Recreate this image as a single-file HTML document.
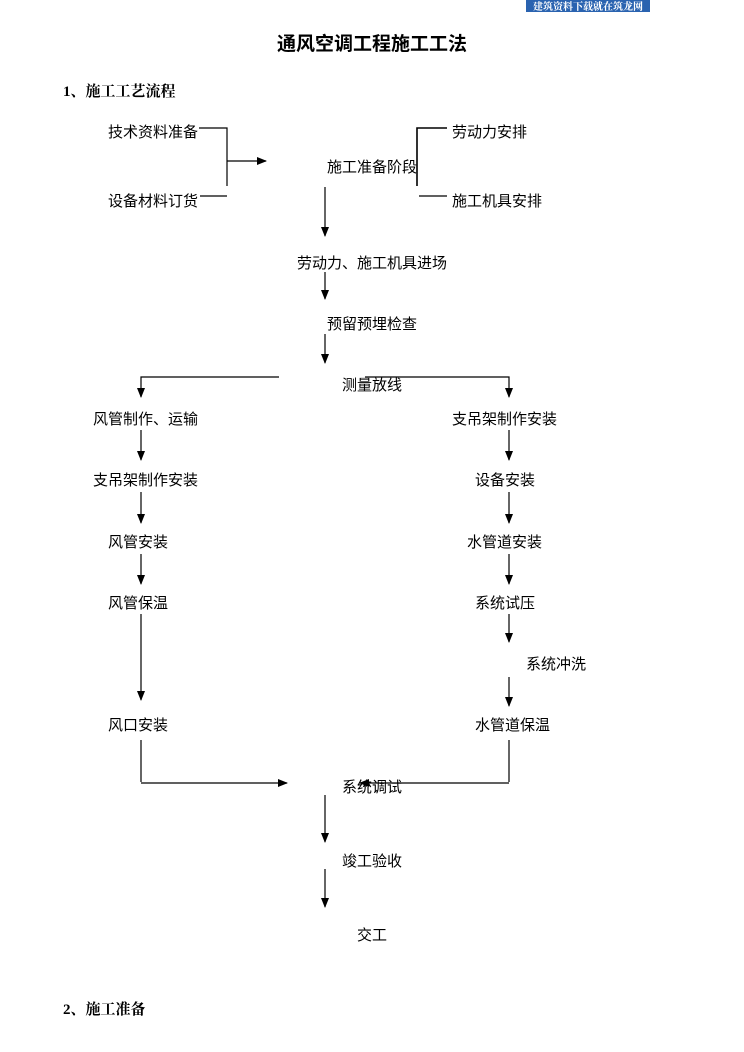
<!DOCTYPE html>
<html><head><meta charset="utf-8"><style>
html,body{margin:0;padding:0;background:#fff;}
svg{display:block;}
text{font-family:"Liberation Serif","Noto Serif CJK SC","Noto Sans CJK SC",serif;fill:#000;}
.l{font-size:15px;font-family:"Liberation Sans","Noto Sans CJK SC",sans-serif;}
.t{font-family:"Liberation Sans","Noto Sans CJK SC",sans-serif;}
</style></head><body>
<svg width="744" height="1052" viewBox="0 0 744 1052" xmlns="http://www.w3.org/2000/svg">
<defs><marker id="a" markerWidth="10" markerHeight="8" refX="9" refY="4" orient="auto" markerUnits="userSpaceOnUse"><path d="M0,0 L10,4 L0,8 z" fill="#000"/></marker></defs>
<rect x="526" y="0" width="124" height="12" fill="#2a63b0"/>
<text x="588" y="10" font-size="10" text-anchor="middle" style="fill:#fff" font-weight="bold">建筑资料下载就在筑龙网</text>
<text class="t" x="372" y="50" font-size="19" font-weight="bold" text-anchor="middle">通风空调工程施工工法</text>
<text x="63" y="96" font-size="15" font-weight="bold">1、施工工艺流程</text>
<text x="63" y="1014" font-size="15" font-weight="bold">2、施工准备</text>
<g stroke="#000" stroke-width="1.2" fill="none">
<path d="M199 128H227V186M200 196H227"/>
<path d="M227 161H266" marker-end="url(#a)"/>
<path d="M447 128H417V186" stroke-width="1.6"/>
<path d="M419 196H447"/>
<path d="M325 187V236" marker-end="url(#a)"/>
<path d="M325 272V299" marker-end="url(#a)"/>
<path d="M325 334V363" marker-end="url(#a)"/>
<path d="M279 377H141V397" marker-end="url(#a)"/>
<path d="M365 377H509V397" marker-end="url(#a)"/>
<path d="M141 430V460" marker-end="url(#a)"/>
<path d="M141 492V523" marker-end="url(#a)"/>
<path d="M141 554V584" marker-end="url(#a)"/>
<path d="M141 614V700" marker-end="url(#a)"/>
<path d="M509 430V460" marker-end="url(#a)"/>
<path d="M509 492V523" marker-end="url(#a)"/>
<path d="M509 554V584" marker-end="url(#a)"/>
<path d="M509 614V642" marker-end="url(#a)"/>
<path d="M509 677V706" marker-end="url(#a)"/>
<path d="M141 740V782"/>
<path d="M141 783H287" marker-end="url(#a)"/>
<path d="M509 740V782"/>
<path d="M509 783H360" marker-end="url(#a)"/>
<path d="M325 795V842" marker-end="url(#a)"/>
<path d="M325 869V907" marker-end="url(#a)"/>
</g>
<g class="l">
<text class="l" x="108" y="137">技术资料准备</text>
<text class="l" x="108" y="206">设备材料订货</text>
<text class="l" x="327" y="172">施工准备阶段</text>
<text class="l" x="452" y="137">劳动力安排</text>
<text class="l" x="452" y="206">施工机具安排</text>
<text class="l" x="297" y="268">劳动力、施工机具进场</text>
<text class="l" x="327" y="329">预留预埋检查</text>
<text class="l" x="342" y="390">测量放线</text>
<text class="l" x="93" y="424">风管制作、运输</text>
<text class="l" x="452" y="424">支吊架制作安装</text>
<text class="l" x="93" y="485">支吊架制作安装</text>
<text class="l" x="108" y="547">风管安装</text>
<text class="l" x="108" y="608">风管保温</text>
<text class="l" x="108" y="730">风口安装</text>
<text class="l" x="475" y="485">设备安装</text>
<text class="l" x="467" y="547">水管道安装</text>
<text class="l" x="475" y="608">系统试压</text>
<text class="l" x="526" y="669">系统冲洗</text>
<text class="l" x="475" y="730">水管道保温</text>
<text class="l" x="342" y="792">系统调试</text>
<text class="l" x="342" y="866">竣工验收</text>
<text class="l" x="357" y="940">交工</text>
</g>
</svg>
</body></html>
